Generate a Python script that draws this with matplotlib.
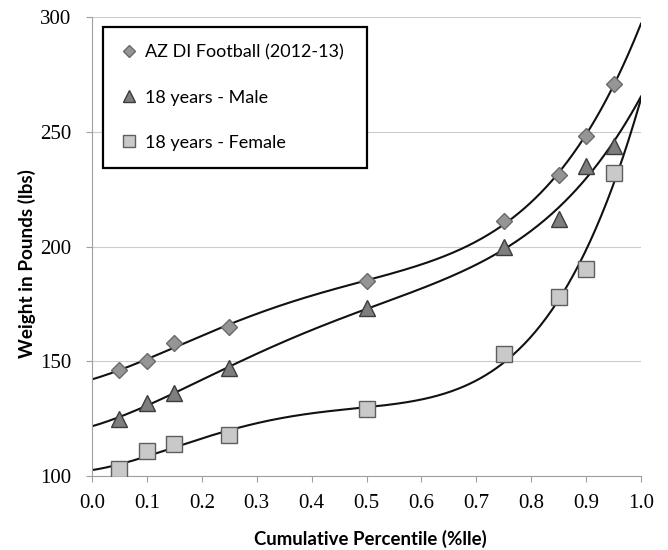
import numpy as np
import matplotlib
matplotlib.use("Agg")
import matplotlib.pyplot as plt
from matplotlib.lines import Line2D

percentiles = [0.05, 0.10, 0.15, 0.25, 0.50, 0.75, 0.85, 0.90, 0.95]
football = [146, 150, 158, 165, 185, 211, 231, 248, 271]
male18 = [125, 132, 136, 147, 173, 200, 212, 235, 244]
female18 = [103, 111, 114, 118, 129, 153, 178, 190, 232]

series_labels = ["AZ DI Football (2012-13)", "18 years - Male", "18 years - Female"]
xticks = [0.0, 0.1, 0.2, 0.3, 0.4, 0.5, 0.6, 0.7, 0.8, 0.9, 1.0]
yticks = [100, 150, 200, 250, 300]

W, H = 668, 550
fig = plt.figure(figsize=(W/100, H/100), dpi=100)
L, R, T, B = 92, 641, 17, 476
ax = fig.add_axes([L/W, (H-B)/H, (R-L)/W, (B-T)/H])

styles = [
    dict(marker="D", ms=8, mfc="#959595", mec="#6a6a6a"),
    dict(marker="^", ms=11, mfc="#7e7e7e", mec="#3c3c3c"),
    dict(marker="s", ms=12, mfc="#c9c9c9", mec="#5e5e5e"),
]

xs = np.linspace(0, 1.0, 400)
for ys, st in zip([football, male18, female18], styles):
    coef = np.polyfit(percentiles, ys, 4)
    ax.plot(xs, np.polyval(coef, xs), color="#111111", lw=1.5, zorder=2)
    ax.plot(percentiles, ys, ls="none", mew=1.0, zorder=3, **st)

ax.set_xlim(0, 1.0)
ax.set_ylim(100, 300)
ax.set_xticks(xticks)
ax.set_yticks(yticks)
ax.set_xticklabels([f"{t:.1f}" for t in xticks], family="Liberation Serif", fontsize=15)
ax.set_yticklabels([str(t) for t in yticks], family="Liberation Serif", fontsize=15)
ax.yaxis.grid(True, color="#cccccc", lw=0.8)
ax.set_axisbelow(True)
for s in ["top", "right"]:
    ax.spines[s].set_visible(False)
for s in ["left", "bottom"]:
    ax.spines[s].set_color("#a0a0a0")
ax.tick_params(axis="both", colors="#a0a0a0", length=4, direction="out", labelcolor="black")
ax.tick_params(axis="y", pad=11)
ax.tick_params(axis="x", pad=9)

ax.set_xlabel("Cumulative Percentile (%lle)", family="Lato", fontweight="bold", fontsize=13.4)
ax.xaxis.set_label_coords((370-L)/(R-L), (B-539)/(B-T))
ax.xaxis.label.set_va("center")
ax.set_ylabel("Weight in Pounds (lbs)", family="Lato", fontweight="bold", fontsize=13.6)
ax.yaxis.set_label_coords((27-L)/(R-L), (B-264)/(B-T))
ax.yaxis.label.set_va("center")

handles = [Line2D([], [], ls="none", mew=1.0, **dict(st, ms=st["ms"]*0.75)) for st in styles]
x0 = (103-L)/(R-L)
y1 = (B-27)/(B-T)
y0 = (B-169)/(B-T)
leg = ax.legend(handles, series_labels, loc="upper left",
                bbox_to_anchor=(x0, y0, (367-103)/(R-L), y1-y0), mode="expand",
                prop=dict(family="Lato", size=13), labelspacing=1.62, handlelength=1.0,
                handletextpad=0.35, borderpad=0.95, fancybox=False, framealpha=1,
                borderaxespad=0)
leg.get_frame().set_edgecolor("black")
leg.get_frame().set_linewidth(1.6)

fig.savefig("out.png", dpi=100)
